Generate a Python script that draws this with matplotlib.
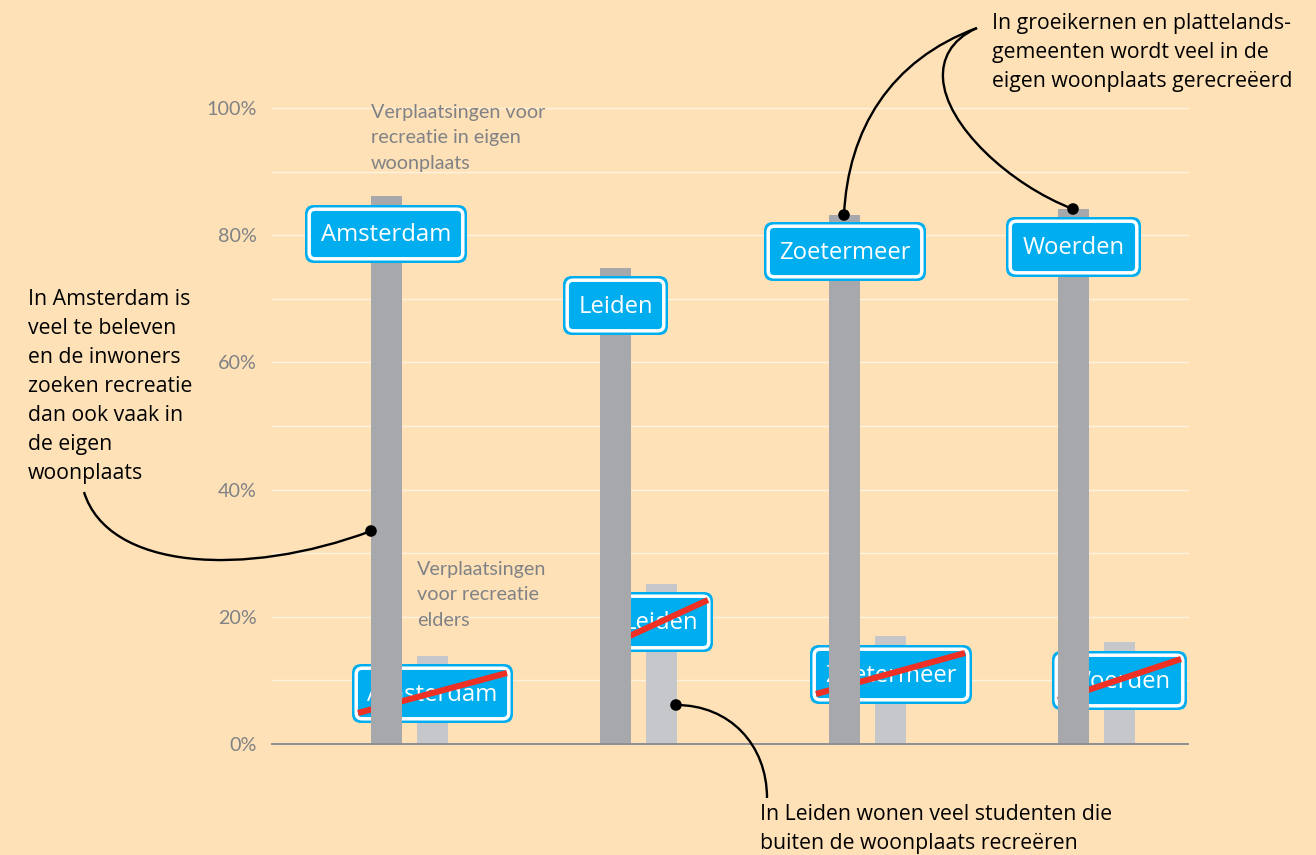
import matplotlib
matplotlib.use('Agg')
import matplotlib.pyplot as plt
from matplotlib.patches import FancyBboxPatch, PathPatch, Circle
from matplotlib.path import Path
from matplotlib.transforms import Affine2D

#--------------data-------------
cities = ['Amsterdam', 'Leiden', 'Zoetermeer', 'Woerden']
eigen_woonplaats = [86.2, 74.8, 83.2, 84.1]
elders = [13.8, 25.2, 17.0, 16.0]
ticks = [0, 20, 40, 60, 80, 100]
grid_lines = [10, 20, 30, 40, 50, 60, 70, 80, 90, 100]

BG = '#FEE1B7'
GRID = '#FFF3E0'
DARK = '#A7A8AC'
LIGHT = '#C6C7CA'
BLUE = '#00AEEF'
RED = '#EE3124'
GREY = '#808285'
FONT = 'Open Sans'

W, H = 1316, 855
fig = plt.figure(figsize=(W / 100, H / 100), dpi=100, facecolor=BG)
ax = fig.add_axes([272 / W, 1 - 744 / H, 916 / W, 636 / H], facecolor='none')

# pixel coordinates of the picture, for signs and callouts
px = Affine2D().scale(1, -1).translate(0, H)

#--------------bars-------------
x = list(range(len(cities)))
bw = 31 / 229
ax.bar(x, eigen_woonplaats, width=bw, color=DARK, zorder=4)
ax.bar([i + 46 / 229 for i in x], elders, width=bw, color=LIGHT, zorder=2)

ax.set_xlim(-0.5, 3.5)
ax.set_ylim(0, 100)
ax.set_xticks([])
ax.set_yticks(ticks)
ax.set_yticklabels([f'{t}%' for t in ticks], fontsize=14.2, color=GREY, family='Lato')
ax.tick_params(axis='y', length=0, pad=11)
for v in grid_lines:
    ax.axhline(v, color=GRID, lw=1, zorder=1, clip_on=False)
for s in ['top', 'left', 'right']:
    ax.spines[s].set_visible(False)
ax.spines['bottom'].set_color('#8E8F94')
ax.spines['bottom'].set_linewidth(1.4)
ax.spines['bottom'].set_zorder(5)


#--------------signs-------------
def sign(x0, x1, y0, y1, label, z):
    ax.add_patch(FancyBboxPatch((x0 + 9, y0 + 9), x1 - x0 - 18, y1 - y0 - 18,
                                boxstyle='round,pad=9,rounding_size=9', fc=BLUE, ec='none',
                                transform=px, zorder=z, clip_on=False))
    ax.add_patch(FancyBboxPatch((x0 + 9, y0 + 9), x1 - x0 - 18, y1 - y0 - 18,
                                boxstyle='round,pad=4.8,rounding_size=6', fc=BLUE, ec='white', lw=2.5,
                                transform=px, zorder=z, clip_on=False))
    ax.text((x0 + x1) / 2, (y0 + y1) / 2 + 1, label, transform=px, ha='center', va='center',
            color='white', fontsize=17.2, family=FONT, zorder=z, clip_on=False)


top_signs = [(305, 467, 205, 263), (563, 668, 276, 335), (764, 926, 222, 281), (1006, 1141, 217, 277)]
end_signs = [(352, 513, 664, 723), (608, 713, 592, 652), (810, 972, 645, 704), (1052, 1187, 651, 710)]
strikes = [((358, 713), (507, 673)), ((610, 645), (708, 600)), ((816, 694), (965, 653)), ((1058, 700), (1181, 659))]

for c, box, box2, st in zip(cities, top_signs, end_signs, strikes):
    sign(*box, c, 5)
    sign(*box2, c, 3)
    ax.plot([st[0][0], st[1][0]], [st[0][1], st[1][1]], color=RED, lw=4.4, transform=px,
            zorder=3.5, clip_on=False, solid_capstyle='butt')


#--------------texts-------------
def lines(x0, y0, step, rows, color='black', size=15.3, font=FONT):
    for i, row in enumerate(rows):
        ax.text(x0, y0 + i * step, row, transform=px, ha='left', va='center', color=color,
                fontsize=size, family=font, zorder=7, clip_on=False)


lines(371, 112, 25.5, ['Verplaatsingen voor', 'recreatie in eigen', 'woonplaats'], GREY, 14.2, 'Lato')
lines(417, 569, 25.5, ['Verplaatsingen', 'voor recreatie', 'elders'], GREY, 14.2, 'Lato')
lines(28, 299, 29, ['In Amsterdam is', 'veel te beleven', 'en de inwoners', 'zoeken recreatie',
                    'dan ook vaak in', 'de eigen', 'woonplaats'])
lines(992, 23, 29, ['In groeikernen en plattelands-', 'gemeenten wordt veel in de', 'eigen woonplaats gerecreëerd'])
lines(760, 814, 29, ['In Leiden wonen veel studenten die', 'buiten de woonplaats recreëren'])

#--------------callouts-------------
C = Path.CURVE4
curves = [
    ([(84, 492), (108, 570), (245, 578), (371, 531)], [Path.MOVETO, C, C, C]),
    ([(977, 28), (890, 60), (848, 130), (844, 215)], [Path.MOVETO, C, C, C]),
    ([(977, 28), (950, 40), (942, 60), (943, 78), (945, 125), (1010, 185), (1073, 209)],
     [Path.MOVETO, C, C, C, C, C, C]),
    ([(767, 798), (767, 745), (730, 705), (676, 705)], [Path.MOVETO, C, C, C]),
]
for verts, codes in curves:
    ax.add_patch(PathPatch(Path(verts, codes), fc='none', ec='black', lw=1.7, transform=px,
                           zorder=6, clip_on=False))
for d in [(371, 531), (844, 215), (1073, 209), (676, 705)]:
    ax.add_patch(Circle(d, 5.8, fc='black', ec='none', transform=px, zorder=6, clip_on=False))

plt.savefig('out.png', dpi=100, facecolor=BG)
